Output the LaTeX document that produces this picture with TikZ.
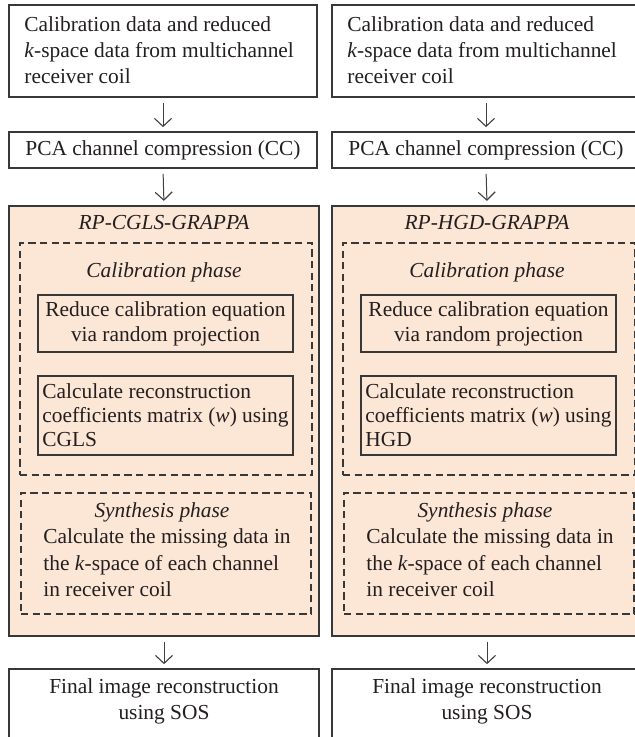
\documentclass[tikz,border=0pt]{standalone}
\usepackage{fontspec}
\setmainfont{Liberation Serif}
\usetikzlibrary{arrows.meta}
\definecolor{txt}{HTML}{231F20}
\definecolor{peach}{HTML}{FCE6D5}
\definecolor{edge}{HTML}{383838}
\definecolor{arrc}{HTML}{404040}
\begin{document}
\begin{tikzpicture}[x=0.5pt,y=-0.5pt,
  font=\fontsize{10.7}{12.7}\selectfont, text=txt,
  box/.style={draw=edge, line width=0.85pt, inner sep=0pt},
  group/.style={draw=edge, line width=1.15pt, fill=peach, inner sep=0pt},
  dbox/.style={draw=edge, line width=1pt, dash pattern=on 3.6pt off 2.2pt, inner sep=0pt},
  plain/.style={inner sep=0pt},
  arr/.style={draw=arrc, line width=0.5pt, -{Straight Barb[length=4pt,width=8.5pt,line width=0.55pt]}, shorten <=2.5pt, shorten >=2pt}]
\useasboundingbox (0,0) rectangle (635,737);
\clip (0,0) rectangle (635,737);
\fill[white] (0,0) rectangle (635,737);
\foreach \c/\dx/\alg/\algname in {L/0/CGLS/RP-CGLS-GRAPPA, R/323/HGD/RP-HGD-GRAPPA}{
\begin{scope}[xshift=\dx*0.5pt]
  \node[box, fill=white, minimum width=154pt, minimum height=46pt] (top\c) at (163,51) {};
  \node[plain, anchor=west, align=left, font=\fontsize{10.7}{13}\selectfont] (toptxt\c) at (24,50)
    {Calibration data and reduced\\\textit{k}-space data from multichannel\\receiver coil};
  \node[box, fill=white, minimum width=154pt, minimum height=18pt] (pca\c) at (163,150)
    {PCA channel compression (CC)};
  \node[group, minimum width=155pt, minimum height=215pt] (grp\c) at (164,421) {};
  \node[plain] (ttl\c) at (164,223) {\itshape \algname};
  \node[dbox, minimum width=146pt, minimum height=116pt] (cal\c) at (166,359) {};
  \node[plain] (calttl\c) at (164,272) {\itshape Calibration phase};
  \node[box, minimum width=127.5pt, minimum height=28.5pt, align=center, font=\fontsize{10.7}{12.5}\selectfont] (rp\c) at (165.5,323.5)
    {Reduce calibration equation\\via random projection};
  \node[box, align=left, minimum width=127.5pt, minimum height=39.5pt, font=\fontsize{10.7}{12}\selectfont] (coef\c) at (165.5,415.5)
    {Calculate reconstruction\\coefficients matrix (\textit{w}) using\\\alg};
  \node[dbox, minimum width=145pt, minimum height=60.5pt] (syn\c) at (166,553.5) {};
  \node[plain] (synttl\c) at (162,512) {\itshape Synthesis phase};
  \node[plain, anchor=west, align=left, font=\fontsize{10.7}{13.2}\selectfont] (synb\c) at (43,563)
    {Calculate the missing data in\\the \textit{k}-space of each channel\\in receiver coil};
  \node[box, fill=white, minimum width=155pt, minimum height=50pt] (fin\c) at (164,719) {};
  \node[plain, align=center, font=\fontsize{10.7}{13.2}\selectfont] (fintxt\c) at (164,701.5)
    {Final image reconstruction\\using SOS};
  \draw[arr] (top\c.south) -- (pca\c.north);
  \draw[arr] (pca\c.south) -- (grp\c.north);
  \draw[arr] (grp\c.south) -- (fin\c.north);
\end{scope}
}
\end{tikzpicture}
\end{document}
